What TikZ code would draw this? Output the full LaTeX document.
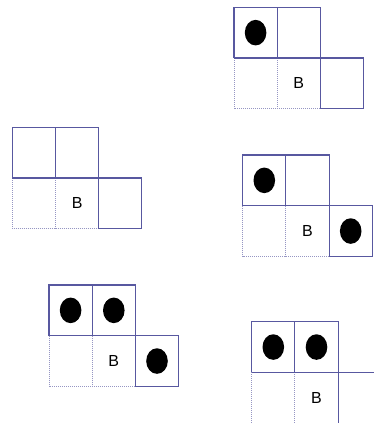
\documentclass[tikz,border=0pt]{standalone}
\usepackage{fontspec}
\setmainfont{Liberation Sans}
\usetikzlibrary{positioning}
\definecolor{gridBlue}{RGB}{88,88,160}
\definecolor{gridDot}{RGB}{150,150,195}

% one L-shaped board: #1 name, #2,#3 top-left corner (px)
\newcommand{\boardshape}[3]{%
\begin{scope}[shift={(#2pt,-#3pt)}, x=43.2pt, y=-50.7pt]
\draw[gridDot, line width=1pt, dash pattern=on 1pt off 1pt] (0,1)--(0,2)--(2,2);
\draw[gridDot, line width=1pt, dash pattern=on 1pt off 1pt] (1,1)--(1,2);
\draw[gridBlue, line width=1.1pt] (0,1)--(0,0)--(2,0)--(2,1);
\draw[gridBlue, line width=1.1pt] (1,0)--(1,1);
\draw[gridBlue, line width=1.1pt] (0,1)--(3,1)--(3,2)--(2,2)--(2,1);
\node[font=\fontsize{16}{16}\selectfont] (#1) at (1.5,1.5) {B};
\end{scope}}

% black stone in cell (#3,#4) of the board with top-left corner #1,#2
\newcommand{\stone}[4]{%
\begin{scope}[shift={(#1pt,-#2pt)}, x=43.2pt, y=-50.7pt]
\fill[black] (#3+0.5,#4+0.5) ellipse [x radius=10.8pt, y radius=12.8pt];
\end{scope}}

\begin{document}
\begin{tikzpicture}[x=1pt,y=-1pt]
\useasboundingbox (0,0) rectangle (374,423);
\clip (0,0) rectangle (374,423);
\boardshape{bOne}{234}{7.3}
\stone{234}{7.3}{0}{0}
\boardshape{bTwo}{12.3}{127.3}
\boardshape{bThree}{242.7}{155}
\stone{242.7}{155}{0}{0}
\stone{242.7}{155}{2}{1}
\boardshape{bFour}{49}{285}
\stone{49}{285}{0}{0}
\stone{49}{285}{1}{0}
\stone{49}{285}{2}{1}
\boardshape{bFive}{251.7}{321.7}
\stone{251.7}{321.7}{0}{0}
\stone{251.7}{321.7}{1}{0}
\end{tikzpicture}
\end{document}
